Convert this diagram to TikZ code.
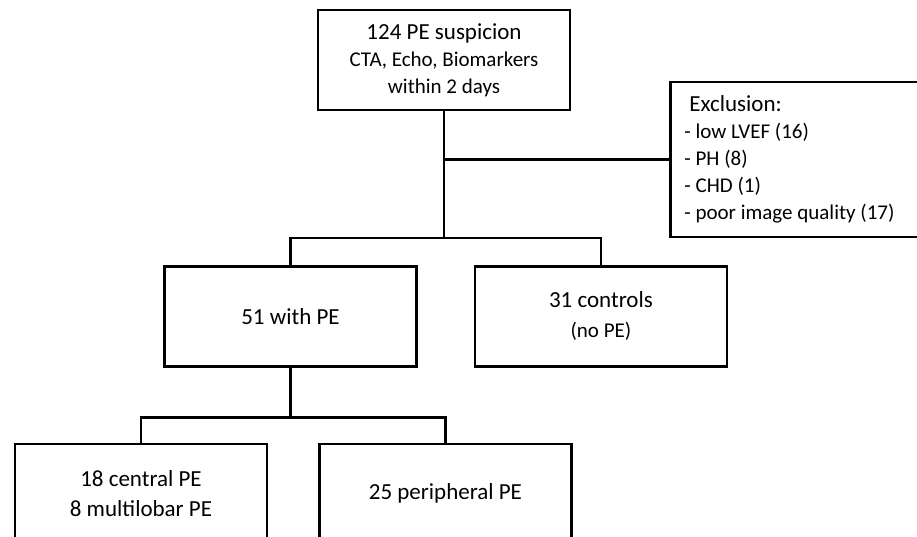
\documentclass[tikz,border=0pt]{standalone}
\usepackage{fontspec}
\setmainfont{Carlito}
\usetikzlibrary{positioning}

\begin{document}
\begin{tikzpicture}[x=1pt,y=-1pt,
      mybox/.style={
         rectangle,
         draw=black,
         line width=2.4pt,
         minimum width=252pt,
         minimum height=100pt,
         inner sep=0pt,
         align=center,
         font=\fontsize{23}{30}\selectfont},
      smalltext/.style={font=\fontsize{21}{27}\selectfont},
      myline/.style={line width=2.4pt},
      node distance=154pt and 56pt
      ]
\useasboundingbox (0,0) rectangle (917,536);
\clip (0,0) rectangle (917,536);

\node[mybox, smalltext] (susp) at (444,60)
   {{\fontsize{23}{27}\selectfont 124 PE suspicion}\\CTA, Echo, Biomarkers\\within 2 days};
\node[mybox, smalltext, minimum width=254pt, minimum height=155pt,
      text width=226pt, inner xsep=14pt, align=flush left,
      right=98pt of susp, yshift=-99.5pt] (excl)
   {{\fontsize{23}{27}\selectfont\hspace*{5pt}Exclusion:}\\- low LVEF (16)\\- PH (8)\\- CHD (1)\\- poor image quality (17)};

\node[mybox, below=154pt of susp, xshift=-153.5pt] (withpe) {51 with PE};
\node[mybox, right=56pt of withpe] (ctrl)
   {31 controls\\{\fontsize{21}{27}\selectfont (no PE)}};

\node[mybox, below=75pt of withpe, xshift=-149.5pt] (cent) {18 central PE\\8 multilobar PE};
\node[mybox, right=50pt of cent] (peri) {25 peripheral PE};

% split points
\coordinate[above=27pt of withpe.north] (split1);
\coordinate[above=25pt of cent.north] (split2);
%
\draw[myline] (susp.south) -- (susp.south |- split1);
\draw[myline] (susp.south |- excl.west) -- (excl.west);
\draw[myline] (withpe.north) -- (split1) -| (ctrl.north);
%
\draw[myline] (withpe.south) -- (withpe.south |- split2);
\draw[myline] (cent.north) -- (split2) -| (peri.north);

\end{tikzpicture}
\end{document}
